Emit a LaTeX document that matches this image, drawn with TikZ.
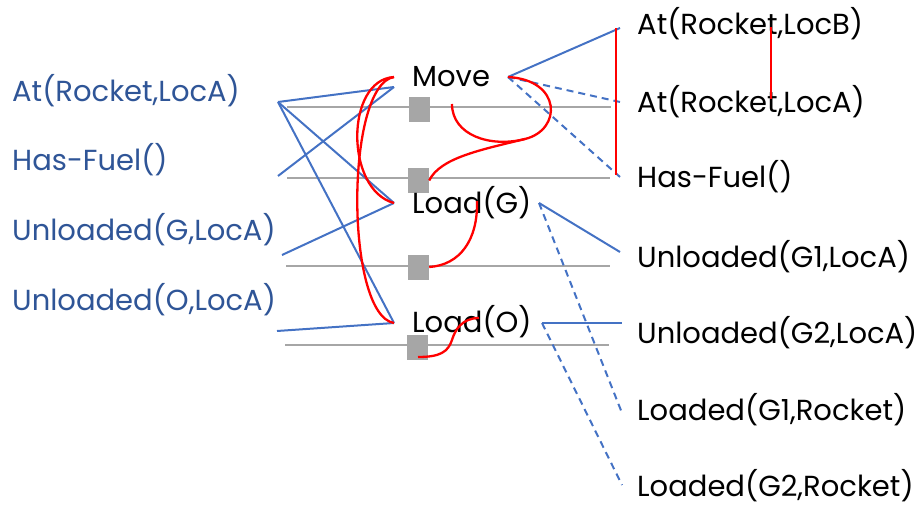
\documentclass[tikz,border=0pt]{standalone}
\usepackage{fontspec}
\setmainfont{Poppins}
\definecolor{tblue}{RGB}{47,85,151}
\definecolor{lblue}{RGB}{68,114,196}
\definecolor{mred}{RGB}{255,0,0}
\definecolor{lgray}{RGB}{166,166,166}
\begin{document}
\begin{tikzpicture}[x=1pt,y=-1pt,
  lbl/.style={anchor=base west,inner sep=0pt,font=\fontsize{29}{30}\selectfont},
  lefttxt/.style={lbl,text=tblue},
  righttxt/.style={lbl,text=black},
  link/.style={draw=lblue,line width=2pt},
  neglink/.style={link,dash pattern=on 7pt off 5pt},
  mutex/.style={draw=mred,line width=2.3pt},
  persist/.style={draw=lgray,line width=2.8pt},
  noop/.style={fill=lgray,draw=none,minimum width=21pt,minimum height=25pt,inner sep=0pt}]
\useasboundingbox (0,0) rectangle (920,505);

% persistence lines
\coordinate (p1a) at (287,107); \coordinate (p1b) at (611,107);
\coordinate (p2a) at (287,178); \coordinate (p2b) at (610,178);
\coordinate (p3a) at (286,266); \coordinate (p3b) at (610,266);
\coordinate (p4a) at (285,345); \coordinate (p4b) at (609,345);
\draw[persist] (p1a) -- (p1b);
\draw[persist] (p2a) -- (p2b);
\draw[persist] (p3a) -- (p3b);
\draw[persist] (p4a) -- (p4b);

% no-op squares
\node[noop] (n1) at (419.5,109.5) {};
\node[noop] (n2) at (418.5,180.5) {};
\node[noop] (n3) at (418.5,267) {};
\node[noop] (n4) at (417.5,347) {};

% left literals
\node[lefttxt] (l1) at (12,102) {At(Rocket,LocA)};
\node[lefttxt] (l2) at (12,171) {Has-Fuel()};
\node[lefttxt] (l3) at (12,240) {Unloaded(G,LocA)};
\node[lefttxt] (l4) at (12,310) {Unloaded(O,LocA)};

% actions
\node[righttxt] (move) at (412,87) {Move};
\node[righttxt] (loadg) at (412,213) {Load(G)};
\node[righttxt] (loado) at (412,332) {Load(O)};

% right literals
\node[righttxt] (r1) at (637,35) {At(Rocket,LocB)};
\node[righttxt] (r2) at (637,113) {At(Rocket,LocA)};
\node[righttxt] (r3) at (637,188) {Has-Fuel()};
\node[righttxt] (r4) at (637,267) {Unloaded(G1,LocA)};
\node[righttxt] (r5) at (637,343) {Unloaded(G2,LocA)};
\node[righttxt] (r6) at (637,420) {Loaded(G1,Rocket)};
\node[righttxt] (r7) at (637,496) {Loaded(G2,Rocket)};

% ports
\coordinate (l1p) at (278,102);
\coordinate (l2p) at (278,176);
\coordinate (l3p) at (282,255);
\coordinate (l4p) at (277,331);
\coordinate (mvL) at (394,87);
\coordinate (mvLr) at (394,77);
\coordinate (mvR) at (508,77);
\coordinate (lgL) at (394,203);
\coordinate (lgR) at (539,203);
\coordinate (loL) at (394,323);
\coordinate (loR) at (542,323);
\coordinate (r1p) at (620,28);
\coordinate (r2p) at (620,102);
\coordinate (r3p) at (620,177);
\coordinate (r4p) at (620,252);
\coordinate (r5p) at (622,323);
\coordinate (r6p) at (622,413);
\coordinate (r7p) at (622,485);

% precondition links
\draw[link] (l1p) -- (mvL);
\draw[link] (l1p) -- (lgL);
\draw[link] (l1p) -- (loL);
\draw[link] (l2p) -- (mvL);
\draw[link] (l3p) -- (lgL);
\draw[link] (l4p) -- (loL);

% effect links
\draw[link] (mvR) -- (r1p);
\draw[neglink] (mvR) -- (r2p);
\draw[neglink] (mvR) -- (r3p);
\draw[link] (lgR) -- (r4p);
\draw[neglink] (lgR) -- (r6p);
\draw[link] (loR) -- (r5p);
\draw[neglink] (loR) -- (r7p);

% mutexes
\draw[mutex] (mvLr) .. controls (345,80) and (345,190) .. (lgL);
\draw[mutex] (mvLr) .. controls (345,85) and (345,315) .. (loL);
\coordinate (cs) at (525,139);
\coordinate (n1r) at (452,104);
\draw[mutex] (mvR) .. controls (562,80) and (562,130) .. (cs)
  .. controls (490,148) and (452,135) .. (n1r);
\draw[mutex] (cs) .. controls (480,150) and (440,158) .. (n2.east);
\coordinate (lgd) at (477,201);
\draw[mutex] (lgd) .. controls (478,240) and (460,265) .. (n3.east);
\coordinate (lod) at (479,318);
\coordinate (los) at (452,340);
\coordinate (n4b) at (418,357);
\draw[mutex] (lod) .. controls (462,318) and (455,330) .. (los)
  .. controls (448,352) and (440,357) .. (n4b);
\coordinate (m1t) at (616,28); \coordinate (m1b) at (616,175);
\draw[mutex] (m1t) -- (m1b);
\coordinate (m2t) at (771,27); \coordinate (m2b) at (771,99);
\draw[mutex] (m2t) -- (m2b);
\end{tikzpicture}
\end{document}
